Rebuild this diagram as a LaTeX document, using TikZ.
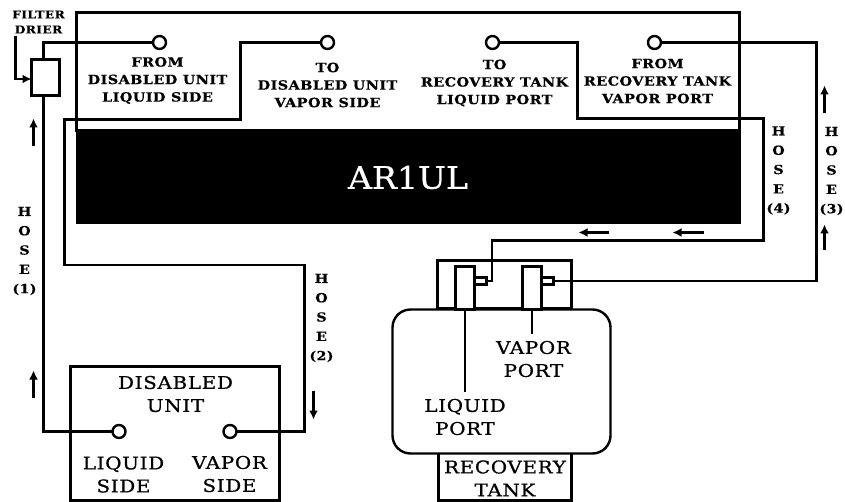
\documentclass[tikz,border=0pt]{standalone}
\usepackage{fontspec}
\usetikzlibrary{arrows.meta}
\newfontfamily\bigf[FakeStretch=1.135,LetterSpace=4,FakeBold=0.9]{DejaVu Serif}
\newfontfamily\boldf[FakeStretch=1.14,LetterSpace=3,FakeBold=0.4]{DejaVu Serif Bold}
\newfontfamily\logof[FakeStretch=1.07,FakeBold=0.6]{DejaVu Serif}
\tikzset{
  x=1pt,y=-1pt,
  outer sep=0pt,
  hose/.style={line width=2.4pt,line join=miter},
  portc/.style={circle,draw,line width=2.4pt,fill=white,inner sep=0pt,minimum size=13pt},
  boxs/.style={draw,line width=2.4pt,fill=white,inner sep=0pt,anchor=north west},
  flow/.style={line width=2.2pt,-{Latex[length=9pt,width=9pt]}},
  biglab/.style={align=center,inner sep=0pt,font=\bigf\fontsize{17.5}{23}\selectfont},
  toplab/.style={align=center,inner sep=0pt,font=\boldf\fontsize{12.7}{17.5}\selectfont},
  hoselab/.style={align=center,inner sep=0pt,font=\boldf\fontsize{12.5}{19.3}\selectfont},
  smalllab/.style={align=center,inner sep=0pt,font=\boldf\fontsize{10.8}{15}\selectfont},
}
\begin{document}
\begin{tikzpicture}
\useasboundingbox (-0.5,-0.5) rectangle (844.5,501.5);
% unit frame and black panel
\node[draw,line width=2.4pt,minimum width=663pt,minimum height=118pt,inner sep=0pt,anchor=north west] (frame) at (76,12) {};
\node[fill=black,minimum width=665pt,minimum height=94pt,inner sep=0pt,anchor=north west,text=white,font=\logof\fontsize{31}{31}\selectfont] (panel) at (75,130) {AR1UL};
% boxes at bottom
\node[boxs,minimum width=209pt,minimum height=134pt] (dis) at (70,366) {};
\node[boxs,minimum width=133pt,minimum height=48pt] (tankbase) at (438,452) {};
\node[boxs,minimum width=134pt,minimum height=48pt] (tanktop) at (437,260) {};
\node[boxs,rounded corners=18pt,minimum width=218pt,minimum height=144pt] (tank) at (392,309) {};
% ports
\node[boxs,minimum width=19pt,minimum height=43pt] (lp) at (455,266) {};
\node[boxs,minimum width=19pt,minimum height=43pt] (vp) at (522,266) {};
\node[boxs,minimum width=12pt,minimum height=7pt] (ln) at (474,277) {};
\node[boxs,minimum width=12pt,minimum height=7pt] (vn) at (541,277) {};
% filter
\node[boxs,minimum width=28pt,minimum height=36pt] (filter) at (31,59) {};
% circles
\node[portc] (c1) at (159,42) {};
\node[portc] (c2) at (327,42) {};
\node[portc] (c3) at (492,42) {};
\node[portc] (c4) at (654,42) {};
\node[portc] (d1) at (118.5,431) {};
\node[portc] (d2) at (229.5,431) {};
% hoses
\draw[hose] (c1.west) -- (43,42) -- (43,59);
\draw[hose] (43,95) -- (43,431) -- (d1.west);
\draw[hose] (c2.west) -- (240,42) -- (240,119) -- (64,119) -- (64,264.5) -- (304,264.5) -- (304,431) -- (d2.east);
\draw[hose] (c3.east) -- (577,42) -- (577,118) -- (763,118) -- (763,240) -- (491.5,240) -- (491.5,280.5) -- (ln.east);
\draw[hose] (c4.east) -- (816,42) -- (816,280.5) -- (vn.east);
% leaders
\coordinate (lle) at (lp.south|-0,391);
\coordinate (vle) at (vp.south|-0,333);
\draw[hose] (lp.south) -- (lle);
\draw[hose] (vp.south) -- (vle);
% filter drier pointer
\coordinate (fd) at (15,36);
\draw[flow] (fd) -- (15,78.5) -- (filter.west|-0,78.5);
% flow arrows
\foreach \a/\b/\c/\d in {33/146/33/118, 33/397/33/370, 313/390/313/419, 824/113/824/85, 824/250/824/224, 608/232/578/232, 703/232/672/232}
  \draw[flow] (\a,\b) -- (\c,\d);
% labels
\node[smalllab] (tfd) at (38,21.5) {FILTER\\DRIER};
\node[toplab] (t1) at (157,80) {FROM\\DISABLED UNIT\\LIQUID SIDE};
\node[toplab] (t2) at (327,84.5) {TO\\DISABLED UNIT\\VAPOR SIDE};
\node[toplab] (t3) at (494,82.5) {TO\\RECOVERY TANK\\LIQUID PORT};
\node[toplab] (t4) at (657,80.5) {FROM\\RECOVERY TANK\\VAPOR PORT};
\node[hoselab] (h1) at (24,250.5) {H\\O\\S\\E\\(1)};
\node[hoselab] (h2) at (321,317.5) {H\\O\\S\\E\\(2)};
\node[hoselab] (h4) at (778,170) {H\\O\\S\\E\\(4)};
\node[hoselab] (h3) at (831,170.5) {H\\O\\S\\E\\(3)};
\node[biglab] (td) at (175,393.5) {DISABLED\\UNIT};
\node[biglab] (tl) at (123,474) {LIQUID\\SIDE};
\node[biglab] (tv) at (229,473.5) {VAPOR\\SIDE};
\node[biglab] (tvp) at (533,358.5) {VAPOR\\PORT};
\node[biglab] (tlp) at (464.5,416.5) {LIQUID\\PORT};
\node[biglab] (trt) at (504.5,478) {RECOVERY\\TANK};
\end{tikzpicture}
\end{document}
